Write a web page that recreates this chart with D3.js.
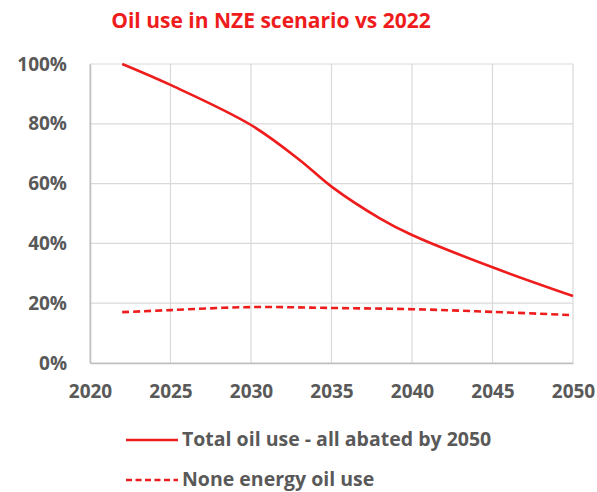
<!DOCTYPE html>
<html>
<head>
<meta charset="utf-8">
<script src="https://cdn.jsdelivr.net/npm/d3@7"></script>
<style>
  html, body { margin: 0; padding: 0; background: #fff; }
  svg { display: block; }
</style>
</head>
<body>
<svg id="chart" width="597" height="492"></svg>
<script>
// Oil use relative to 2022 (share of 2022 level)
const years = [2022, 2025, 2030, 2033, 2035, 2038, 2040, 2045, 2050];
const totalOil = [1.00, 0.93, 0.796, 0.68, 0.59, 0.484, 0.428, 0.32, 0.224];
const nonEnergyYears = [2022, 2025, 2030, 2035, 2040, 2045, 2050];
const nonEnergyOil = [0.17, 0.177, 0.187, 0.184, 0.18, 0.171, 0.16];
const xTicks = [2020, 2025, 2030, 2035, 2040, 2045, 2050];
const yTicks = [0, 0.2, 0.4, 0.6, 0.8, 1.0];
const seriesNames = ["Total oil use - all abated by 2050", "None energy oil use"];

const svg = d3.select("#chart");
const red = "#ee1c1c";
const grid = "#d9d9d9";
const labelColor = "#595959";
const font = "'Open Sans', 'Liberation Sans', sans-serif";

const x = d3.scaleLinear().domain([2020, 2050]).range([90, 573]);
const y = d3.scaleLinear().domain([0, 1]).range([363, 64]);

// Title
svg.append("text")
  .attr("x", 271).attr("y", 28)
  .attr("text-anchor", "middle")
  .attr("font-family", font).attr("font-weight", "bold")
  .attr("font-size", 21).attr("fill", red)
  .text("Oil use in NZE scenario vs 2022");

// Gridlines
svg.append("g").selectAll("line.h").data(yTicks).join("line")
  .attr("x1", x(2020)).attr("x2", x(2050))
  .attr("y1", d => y(d)).attr("y2", d => y(d))
  .attr("stroke", grid).attr("stroke-width", 1.2);
svg.append("g").selectAll("line.v").data(xTicks).join("line")
  .attr("x1", d => x(d)).attr("x2", d => x(d))
  .attr("y1", y(0)).attr("y2", y(1))
  .attr("stroke", grid).attr("stroke-width", 1.2);

// Axes
const yAxis = svg.append("g").attr("transform", `translate(${x(2020)},0)`)
  .call(d3.axisLeft(y).tickValues(yTicks).tickFormat(d3.format(".0%")).tickSize(0).tickPadding(23));
const xAxis = svg.append("g").attr("transform", `translate(0,${y(0)})`)
  .call(d3.axisBottom(x).tickValues(xTicks).tickFormat(d3.format("d")).tickSize(0).tickPadding(22));
[yAxis, xAxis].forEach(a => {
  a.select(".domain").attr("stroke", "#bfbfbf").attr("stroke-width", 1.5);
  a.selectAll("text").attr("font-family", font).attr("font-weight", "bold")
    .attr("font-size", 19).attr("fill", labelColor);
});

// Lines
const curve = d3.curveCatmullRom.alpha(0.5);
const totalLine = d3.line().x((d, i) => x(years[i])).y(d => y(d)).curve(curve);
const nonLine = d3.line().x((d, i) => x(nonEnergyYears[i])).y(d => y(d)).curve(curve);

svg.append("path").attr("d", totalLine(totalOil))
  .attr("fill", "none").attr("stroke", red).attr("stroke-width", 2.6);
svg.append("path").attr("d", nonLine(nonEnergyOil))
  .attr("fill", "none").attr("stroke", red).attr("stroke-width", 2.6)
  .attr("stroke-dasharray", "7,4");

// Legend
const legend = svg.append("g");
const legendRows = [{ name: seriesNames[0], dash: null, y: 440 }, { name: seriesNames[1], dash: "6,3.5", y: 480 }];
legendRows.forEach(r => {
  legend.append("line")
    .attr("x1", 126).attr("x2", 178).attr("y1", r.y).attr("y2", r.y)
    .attr("stroke", red).attr("stroke-width", 2.6)
    .attr("stroke-dasharray", r.dash);
  legend.append("text")
    .attr("x", 182).attr("y", r.y + 6)
    .attr("font-family", font).attr("font-weight", "bold")
    .attr("font-size", 19.5).attr("fill", labelColor)
    .text(r.name);
});
</script>
</body>
</html>
